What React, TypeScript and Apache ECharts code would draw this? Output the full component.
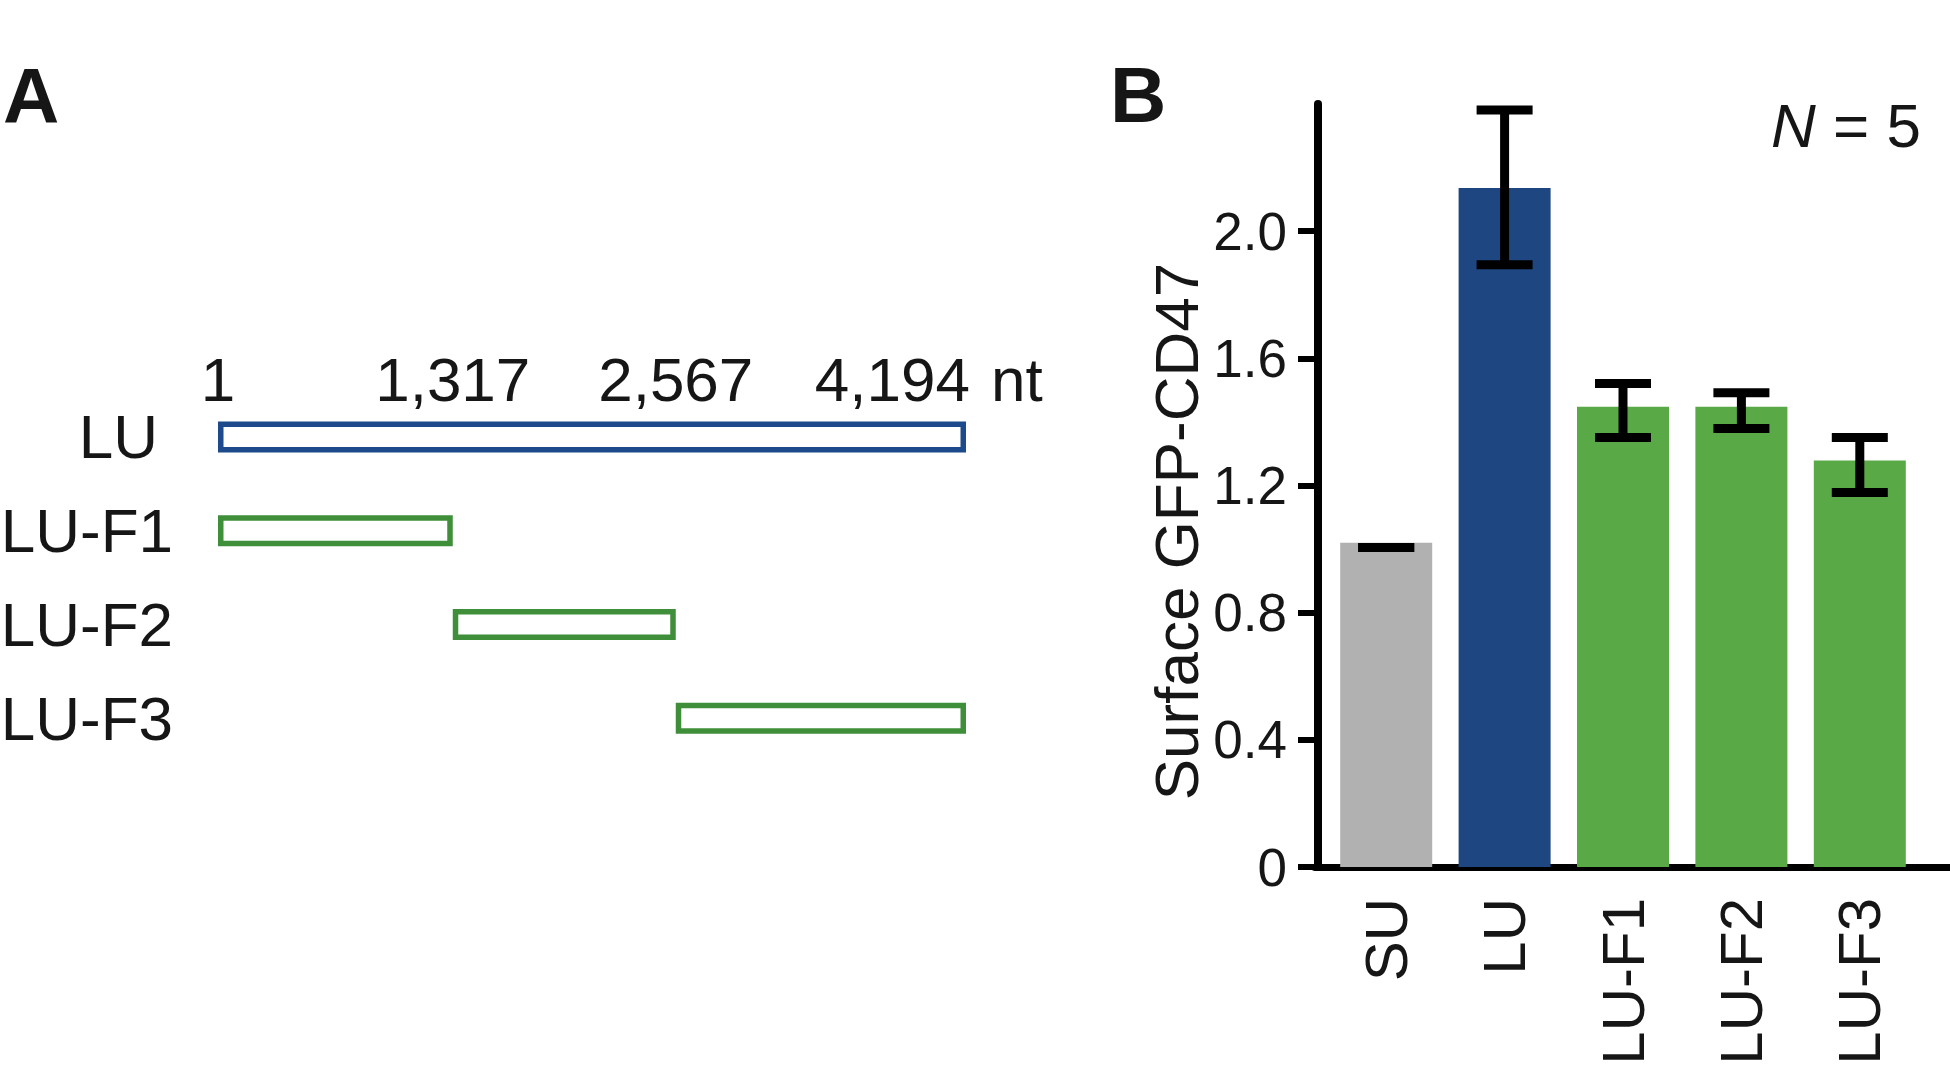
import React, { useEffect, useRef } from 'react';
import * as echarts from 'echarts';

// Panel A: construct map (nt positions)
const constructs = ['LU', 'LU-F1', 'LU-F2', 'LU-F3'];
const segStart = [1, 1, 1317, 2567];
const segEnd = [4194, 1317, 2567, 4194];
const ntTicks = [1, 1317, 2567, 4194];

// Panel B: surface GFP-CD47
const barCategories = ['SU', 'LU', 'LU-F1', 'LU-F2', 'LU-F3'];
const barMeans = [1.02, 2.136, 1.448, 1.448, 1.279];
const errLow = [1.005, 1.894, 1.351, 1.379, 1.178];
const errHigh = [1.005, 2.381, 1.521, 1.492, 1.351];
const yTicks = [0, 0.4, 0.8, 1.2, 1.6, 2.0];

const FONT = '"Liberation Sans", Arial, Helvetica, sans-serif';
const segColors = ['#1d4a8a', '#3f8e3a', '#3f8e3a', '#3f8e3a'];
const barColors = ['#b2b1b2', '#1e4680', '#59a946', '#59a946', '#59a946'];
const INK = '#161616';

export default function App() {
  const ref = useRef<HTMLDivElement>(null);
  useEffect(() => {
    if (!ref.current) return;
    const chart = echarts.init(ref.current, undefined, { renderer: 'svg' });
    const option: any = {
      animation: false,
      backgroundColor: '#ffffff',
      textStyle: { fontFamily: FONT },
      grid: [
        { left: 218, right: 1950 - 966, top: 390, height: 375, outerBoundsMode: 'none', containLabel: false },
        { left: 1327, right: 31, top: 104, bottom: 198, outerBoundsMode: 'none', containLabel: false },
        { left: 1315, right: 0, top: 104, bottom: 198, outerBoundsMode: 'none', containLabel: false },
      ],
      xAxis: [
        { gridIndex: 0, type: 'value', min: 1, max: 4194, show: false },
        {
          gridIndex: 1,
          type: 'category',
          data: barCategories,
          axisLine: { show: false },
          axisTick: { show: false },
          axisLabel: {
            rotate: 90,
            margin: 31,
            fontSize: 60,
            color: INK,
            fontFamily: FONT,
          },
        },
        {
          gridIndex: 2,
          type: 'value',
          min: 0,
          max: 1,
          offset: 3,
          axisLine: { show: true, lineStyle: { color: '#000', width: 7 } },
          axisTick: { show: false },
          axisLabel: { show: false },
          splitLine: { show: false },
        },
      ],
      yAxis: [
        {
          gridIndex: 0,
          type: 'category',
          data: constructs,
          inverse: true,
          axisLine: { show: false },
          axisTick: { show: false },
          axisLabel: {
            margin: 45,
            fontSize: 62,
            color: INK,
            fontFamily: FONT,
            formatter: (v: string) => (v === 'LU' ? '{s|LU}' : v),
            rich: { s: { fontSize: 62, color: INK, fontFamily: FONT, padding: [0, 15, 0, 0] } },
          },
        },
        {
          gridIndex: 1,
          type: 'value',
          min: 0,
          max: 2.4,
          interval: 0.4,
          offset: 9,
          name: 'Surface GFP-CD47',
          nameLocation: 'middle',
          nameGap: 111,
          nameTextStyle: { fontSize: 62, color: INK, fontFamily: FONT, padding: [0, 92, 0, 0] },
          axisLine: { show: true, lineStyle: { color: '#000', width: 8 } },
          axisTick: { show: true, length: 20, customValues: yTicks, lineStyle: { color: '#000', width: 6 } },
          axisLabel: {
            customValues: yTicks,
            margin: 31,
            fontSize: 53,
            color: INK,
            fontFamily: FONT,
            formatter: (v: number) => (v === 0 ? '0' : v.toFixed(1)),
          },
          splitLine: { show: false },
        },
        { gridIndex: 2, type: 'value', show: false },
      ],
      series: [
        {
          type: 'custom',
          xAxisIndex: 0,
          yAxisIndex: 0,
          encode: { x: [1, 2], y: 0 },
          data: constructs.map((_, i) => [i, segStart[i], segEnd[i]]),
          renderItem: (params: any, api: any) => {
            const cat = api.value(0);
            const p0 = api.coord([api.value(1), cat]);
            const p1 = api.coord([api.value(2), cat]);
            const h = 31;
            const lw = 5.5;
            return {
              type: 'rect',
              shape: { x: p0[0] + lw / 2, y: p0[1] - h / 2 + lw / 2, width: p1[0] - p0[0] - lw, height: h - lw },
              style: { fill: '#ffffff', stroke: segColors[params.dataIndex], lineWidth: lw },
            };
          },
        },
        {
          type: 'custom',
          xAxisIndex: 0,
          yAxisIndex: 0,
          encode: { x: 0 },
          data: ntTicks.map((v) => [v]),
          renderItem: (params: any, api: any) => {
            const v = api.value(0);
            const p = api.coord([v, 0]);
            const y = p[1] - 57;
            const isLast = params.dataIndex === ntTicks.length - 1;
            const label = v.toLocaleString('en-US');
            const children: any[] = [
              {
                type: 'text',
                style: {
                  text: label,
                  x: isLast ? p[0] + 4 : p[0],
                  y,
                  align: isLast ? 'right' : 'center',
                  verticalAlign: 'middle',
                  fontSize: 62,
                  fontFamily: FONT,
                  fill: INK,
                },
              },
            ];
            if (isLast) {
              children.push({
                type: 'text',
                style: { text: 'nt', x: p[0] + 25, y, align: 'left', verticalAlign: 'middle', fontSize: 62, fontFamily: FONT, fill: INK },
              });
            }
            return { type: 'group', children };
          },
        },
        {
          type: 'bar',
          xAxisIndex: 1,
          yAxisIndex: 1,
          barWidth: 92,
          data: barMeans.map((v, i) => ({ value: v, itemStyle: { color: barColors[i] } })),
        },
        {
          type: 'custom',
          xAxisIndex: 1,
          yAxisIndex: 1,
          encode: { x: 0, y: [1, 2] },
          data: barCategories.map((_, i) => [i, errLow[i], errHigh[i]]),
          z: 5,
          renderItem: (params: any, api: any) => {
            const i = api.value(0);
            const lo = api.coord([i, api.value(1)]);
            const hi = api.coord([i, api.value(2)]);
            const half = 28;
            const lw = 9;
            const st = { stroke: '#000', lineWidth: lw };
            return {
              type: 'group',
              children: [
                { type: 'line', shape: { x1: hi[0], y1: hi[1], x2: lo[0], y2: lo[1] }, style: st },
                { type: 'line', shape: { x1: hi[0] - half, y1: hi[1], x2: hi[0] + half, y2: hi[1] }, style: st },
                { type: 'line', shape: { x1: lo[0] - half, y1: lo[1], x2: lo[0] + half, y2: lo[1] }, style: st },
              ],
            };
          },
        },
      ],
      graphic: [
        { type: 'text', style: { text: 'A', x: 3, y: 96, verticalAlign: 'middle', fontSize: 78, fontWeight: 'bold', fontFamily: FONT, fill: INK } },
        { type: 'text', style: { text: 'B', x: 1110, y: 95, verticalAlign: 'middle', fontSize: 78, fontWeight: 'bold', fontFamily: FONT, fill: INK } },
        {
          type: 'text',
          style: {
            text: '{i|N} = 5',
            x: 1921,
            y: 125,
            align: 'right',
            verticalAlign: 'middle',
            fontSize: 62,
            fontFamily: FONT,
            fill: INK,
            rich: { i: { fontStyle: 'italic', fontSize: 62, fontFamily: FONT, fill: INK } },
          },
        },
      ],
    };
    chart.setOption(option);
    return () => chart.dispose();
  }, []);
  return (
    <div
      ref={ref}
      style={{ position: 'fixed', left: 0, top: 0, width: 1950, height: 1065, background: '#fff' }}
    />
  );
}
